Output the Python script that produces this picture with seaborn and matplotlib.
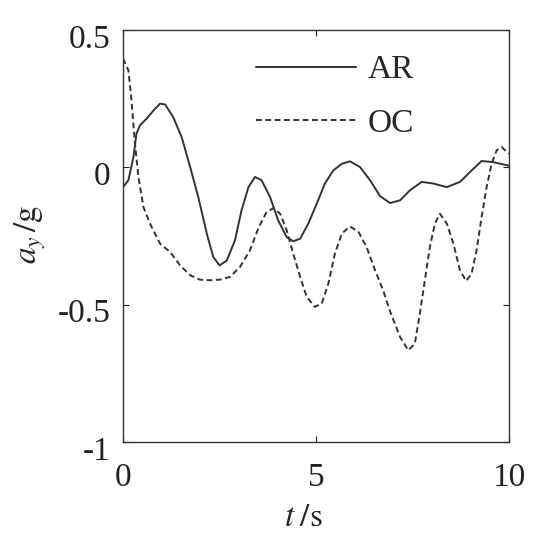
import numpy as np
import pandas as pd
import matplotlib
matplotlib.use("Agg")
import matplotlib.pyplot as plt
import matplotlib.transforms as mtransforms
import seaborn as sns

# Data
t_ar = [0.0, 0.14, 0.27, 0.35, 0.44, 0.61, 0.79, 0.96, 1.09, 1.30, 1.52, 1.74, 1.95, 2.17, 2.34,
        2.50, 2.69, 2.90, 3.07, 3.25, 3.42, 3.59, 3.81, 4.02, 4.24, 4.41, 4.59, 4.80, 5.02, 5.23,
        5.45, 5.67, 5.88, 6.14, 6.40, 6.66, 6.92, 7.18, 7.43, 7.74, 8.04, 8.39, 8.73, 8.99, 9.29,
        9.59, 10.0]
y_ar = [-0.072, -0.047, 0.037, 0.123, 0.153, 0.177, 0.207, 0.232, 0.229, 0.183, 0.110, 0.001,
        -0.108, -0.241, -0.327, -0.357, -0.339, -0.266, -0.157, -0.072, -0.035, -0.047, -0.108,
        -0.193, -0.254, -0.269, -0.260, -0.205, -0.132, -0.059, -0.011, 0.013, 0.022, 0.001,
        -0.047, -0.105, -0.130, -0.120, -0.084, -0.053, -0.059, -0.072, -0.053, -0.017, 0.023,
        0.019, 0.006]

t_oc = [0.0, 0.14, 0.22, 0.31, 0.40, 0.53, 0.70, 0.96, 1.22, 1.48, 1.74, 1.99, 2.25, 2.51, 2.77,
        3.03, 3.29, 3.51, 3.72, 3.90, 4.07, 4.24, 4.41, 4.59, 4.76, 4.97, 5.15, 5.32, 5.49, 5.67,
        5.88, 6.10, 6.31, 6.53, 6.74, 6.92, 7.18, 7.39, 7.56, 7.69, 7.82, 7.95, 8.08, 8.21, 8.39,
        8.56, 8.73, 8.89, 9.03, 9.16, 9.29, 9.42, 9.55, 9.68, 9.81, 9.94, 10.0]
y_oc = [0.396, 0.353, 0.244, 0.086, -0.035, -0.145, -0.205, -0.278, -0.308, -0.357, -0.393,
        -0.409, -0.411, -0.409, -0.399, -0.363, -0.302, -0.220, -0.163, -0.148, -0.169, -0.229,
        -0.314, -0.399, -0.472, -0.508, -0.496, -0.423, -0.314, -0.241, -0.215, -0.235, -0.290,
        -0.375, -0.448, -0.525, -0.618, -0.666, -0.642, -0.533, -0.411, -0.290, -0.205, -0.169,
        -0.205, -0.278, -0.375, -0.414, -0.387, -0.302, -0.181, -0.072, 0.013, 0.062, 0.074,
        0.056, 0.050]

series_names = ["AR", "OC"]
x_ticks = [0, 5, 10]
y_ticks = [0.5, 0, -0.5, -1]
y_tick_labels = ["0.5", "0", "-0.5", "-1"]

df = pd.concat([
    pd.DataFrame({"t": t_ar, "a": y_ar, "series": series_names[0]}),
    pd.DataFrame({"t": t_oc, "a": y_oc, "series": series_names[1]}),
], ignore_index=True)

sns.set_style("ticks")
plt.rcParams["font.family"] = ["Liberation Serif", "DejaVu Serif"]
plt.rcParams["mathtext.fontset"] = "stix"
plt.rcParams["axes.unicode_minus"] = False

FS = 24
fig = plt.figure(figsize=(5.45, 5.5), dpi=100)
ax = fig.add_axes([123 / 545, 1 - 442 / 550, 386 / 545, 412 / 550])

sns.lineplot(data=df, x="t", y="a", hue="series", style="series",
             palette={"AR": "#333333", "OC": "#333333"},
             dashes={"AR": "", "OC": (3.0, 1.8)},
             linewidth=1.4, ax=ax, sort=False, estimator=None)

ax.set_xlim(0, 10)
ax.set_ylim(-1, 0.5)
ax.set_xticks(x_ticks)
ax.set_xticklabels([str(v) for v in x_ticks])
ax.set_yticks(y_ticks)
ax.set_yticklabels(y_tick_labels)
ax.tick_params(direction="in", length=4, width=0.8, top=True, right=True,
               labelsize=FS, colors="#222222")
ax.tick_params(axis="x", pad=15)
ax.tick_params(axis="y", pad=9)
# shift y tick labels slightly downward like the reference
offset = mtransforms.ScaledTranslation(0, -6 / 100, fig.dpi_scale_trans)
for lab in ax.get_yticklabels():
    lab.set_transform(lab.get_transform() + offset)

for s in ax.spines.values():
    s.set_linewidth(1.0)
    s.set_color("#333333")

ax.set_xlabel(r"$t\;/\mathrm{s}$", fontsize=FS)
ax.set_ylabel(r"$a_y\,/\mathrm{g}$", fontsize=FS)
ax.xaxis.set_label_coords((303 - 123) / 386, (442 - 503) / 412)
ax.yaxis.set_label_coords((48 - 123) / 386, (442 - 234) / 412)

leg = ax.legend(loc="upper left", bbox_to_anchor=(0.345, 0.94), frameon=False,
                fontsize=FS, handlelength=3.0, handletextpad=0.35, labelspacing=0.7,
                borderaxespad=0, borderpad=0)

fig.savefig("out.png", dpi=100)
